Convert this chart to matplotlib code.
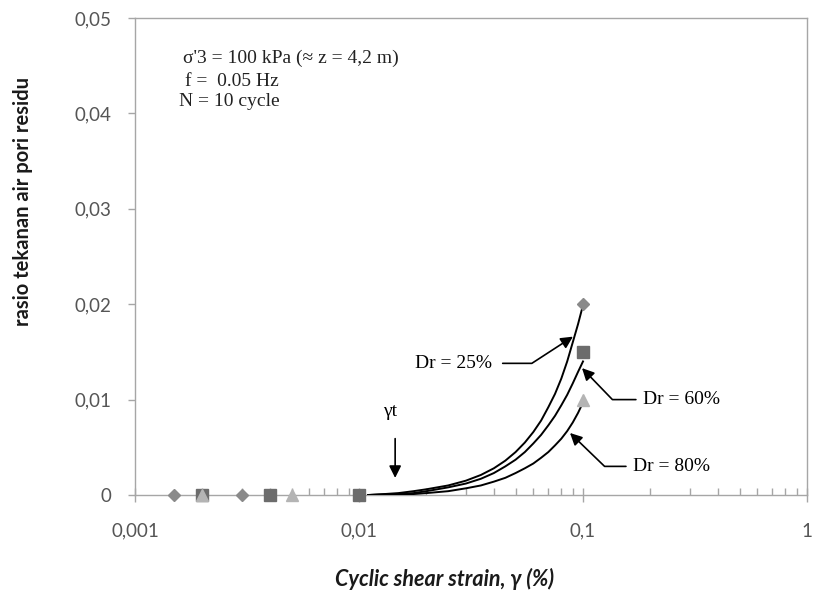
import numpy as np
import matplotlib
matplotlib.use('Agg')
from matplotlib import pyplot as plt
from matplotlib.ticker import LogLocator, FixedLocator, FuncFormatter, NullFormatter

plt.rcParams['font.family'] = ['Lato', 'DejaVu Sans']

# data points (marker series)
x25 = [0.0015, 0.003, 0.1]
y25 = [0, 0, 0.020]
x60 = [0.002, 0.004, 0.01, 0.1]
y60 = [0, 0, 0, 0.015]
x80 = [0.002, 0.005, 0.1]
y80 = [0, 0, 0.010]

# trend curves
gamma_fit = [0.011, 0.013, 0.015, 0.0175, 0.02, 0.025, 0.03, 0.035, 0.04, 0.045, 0.05,
	0.055, 0.06, 0.065, 0.07, 0.075, 0.08, 0.085, 0.09, 0.095, 0.1]
fit25 = [0, 0.0001, 0.0002, 0.0004, 0.0006, 0.0010, 0.0015, 0.0021, 0.0028, 0.0036, 0.0045,
	0.0055, 0.0066, 0.0078, 0.0092, 0.0106, 0.0122, 0.0140, 0.0160, 0.0179, 0.0199]
fit60 = [0, 0.00005, 0.0001, 0.0002, 0.0004, 0.0008, 0.0012, 0.0017, 0.0023, 0.0030, 0.0037,
	0.0045, 0.0054, 0.0063, 0.0073, 0.0083, 0.0094, 0.0105, 0.0117, 0.0129, 0.0140]
fit80 = [0, 0.00003, 0.00006, 0.0001, 0.0002, 0.0004, 0.0007, 0.0010, 0.0014, 0.0018, 0.0023,
	0.0028, 0.0033, 0.0039, 0.0045, 0.0052, 0.0059, 0.0067, 0.0076, 0.0086, 0.0097]

yticks = [0, 0.01, 0.02, 0.03, 0.04, 0.05]
xticks = [0.001, 0.01, 0.1, 1]

fig = plt.figure(figsize=(8.14, 5.96), dpi=100)
ax = fig.add_axes([135/814, 1-495/596, (807-135)/814, (495-18)/596])

ax.set_xscale('log')
ax.set_xlim(0.001, 1)
ax.set_ylim(0, 0.05)

# kurva trend
for fy in [fit25, fit60, fit80]:
	ax.plot(gamma_fit, fy, color='black', lw=1.4, zorder=3)

ax.plot(x25, y25, ls='none', marker='D', ms=6, color='#8a8a8a', zorder=4, clip_on=False)
ax.plot(x60, y60, ls='none', marker='s', ms=8, color='#6c6c6c', zorder=4, clip_on=False)
ax.plot(x80, y80, ls='none', marker='^', ms=8, color='#b4b4b4', zorder=5, clip_on=False)

# spines & ticks
for s in ax.spines.values():
	s.set_color('#a6a6a6')
	s.set_linewidth(1.0)
ax.xaxis.set_major_locator(FixedLocator(xticks))
ax.xaxis.set_minor_locator(LogLocator(base=10, subs=np.arange(2, 10)))
ax.xaxis.set_minor_formatter(NullFormatter())
ax.xaxis.set_major_formatter(FuncFormatter(lambda v, p: ('%g' % v).replace('.', ',')))
ax.set_yticks(yticks)
ax.yaxis.set_major_formatter(FuncFormatter(lambda v, p: '0' if v == 0 else ('%.2f' % v).replace('.', ',')))
ax.tick_params(axis='x', which='major', direction='inout', length=10, width=1, color='#a6a6a6',
	labelsize=13.5, labelcolor='#555555', pad=15, top=False)
ax.tick_params(axis='x', which='minor', direction='in', length=5, width=1, color='#a6a6a6', top=False)
ax.tick_params(axis='y', which='major', direction='out', length=5, width=1, color='#a6a6a6',
	labelsize=13.5, labelcolor='#555555', pad=12, right=False)

ax.set_ylabel('rasio tekanan air pori residu', fontsize=14.5, fontweight='bold', color='#1a1a1a')
ax.yaxis.set_label_coords(-0.152, 0.616)
ax.set_xlabel('Cyclic shear strain, γ (%)', fontsize=15.5, style='italic', fontweight='bold', color='#1a1a1a')
ax.xaxis.set_label_coords(0.461, -0.152)

# keterangan pengujian
serif = ['Liberation Serif', 'DejaVu Serif']
ax.text(0.00164, 0.0458, "σ'3 = 100 kPa (≈ z = 4,2 m)", family=serif, fontsize=14, va='center', color='#222222')
ax.text(0.00167, 0.0433, "f =  0.05 Hz", family=serif, fontsize=14, va='center', color='#222222')
ax.text(0.00157, 0.0412, "N = 10 cycle", family=serif, fontsize=14, va='center', color='#222222')

# panah gamma t
ax.annotate('', xy=(0.0145, 0.0015), xytext=(0.0145, 0.0062),
	arrowprops=dict(arrowstyle='-|>', color='black', lw=1.2, mutation_scale=18))
ax.text(0.0138, 0.0088, 'γt', family=serif, fontsize=14, ha='center', va='center')

# label Dr
ax.annotate('Dr = 25%', xy=(0.0902, 0.0166), xytext=(0.0263, 0.0138), family=serif, fontsize=14,
	ha='center', va='center',
	arrowprops=dict(arrowstyle='-|>', color='black', lw=1.2, mutation_scale=18,
		connectionstyle='angle,angleA=0,angleB=33,rad=0', shrinkA=6, shrinkB=0))
ax.annotate('Dr = 60%', xy=(0.099, 0.0133), xytext=(0.185, 0.0100), family=serif, fontsize=14,
	ha='left', va='center',
	arrowprops=dict(arrowstyle='-|>', color='black', lw=1.2, mutation_scale=18,
		connectionstyle='angle,angleA=0,angleB=134,rad=0', shrinkA=3, shrinkB=0))
ax.annotate('Dr = 80%', xy=(0.0875, 0.0065), xytext=(0.167, 0.0030), family=serif, fontsize=14,
	ha='left', va='center',
	arrowprops=dict(arrowstyle='-|>', color='black', lw=1.2, mutation_scale=18,
		connectionstyle='angle,angleA=0,angleB=136,rad=0', shrinkA=3, shrinkB=0))

fig.savefig('out.png', dpi=100)
